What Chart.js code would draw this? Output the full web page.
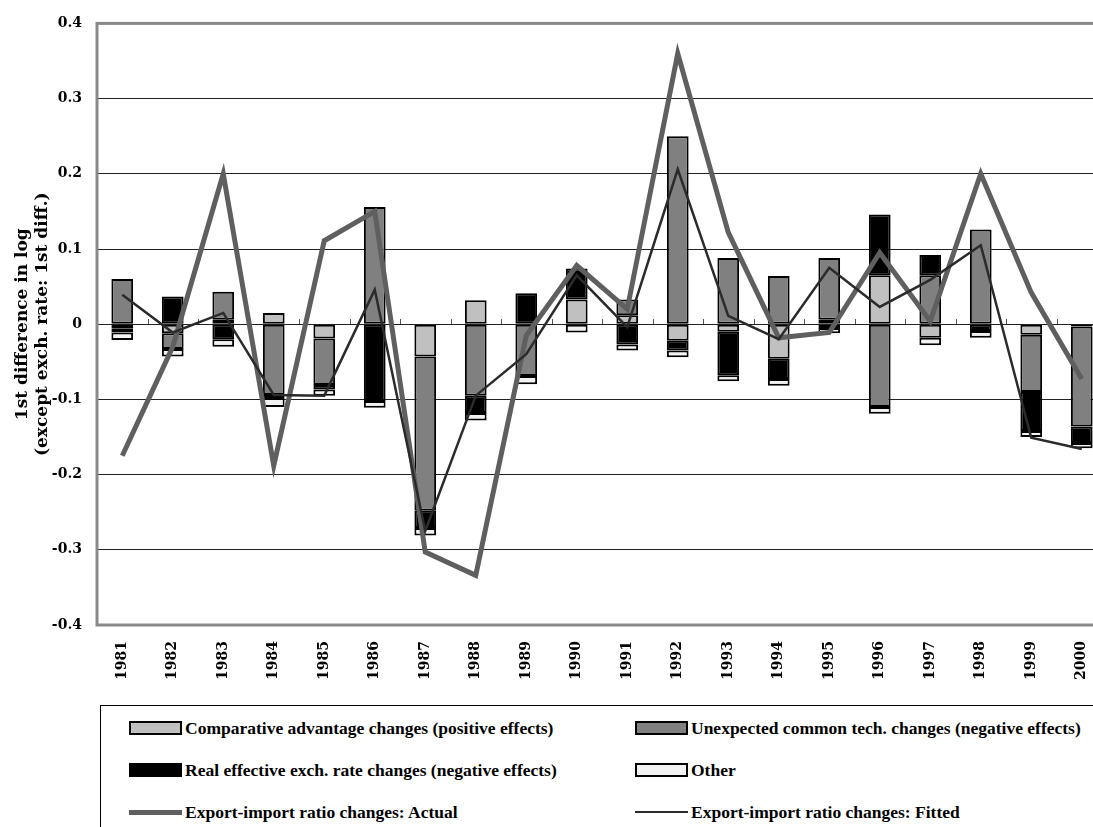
<!DOCTYPE html>
<html>
<head>
<meta charset="utf-8">
<script src="https://cdn.jsdelivr.net/npm/chart.js@4.4.1/dist/chart.umd.min.js"></script>
<style>
    body { margin: 0; background: #fff; overflow: hidden; width: 1093px; height: 827px; position: relative; }
    #wrap { position: absolute; left: 0; top: 0; }
    #legend {
        position: absolute; left: 100px; top: 705px; width: 1000px; height: 122px;
        border-top: 1px solid #000; border-left: 1px solid #000;
        display: grid; grid-template-columns: 506px 1fr; grid-auto-rows: 42px;
        padding-left: 28px; padding-top: 1px; box-sizing: border-box;
        font-family: "Liberation Serif", serif; font-weight: bold; font-size: 17.5px; color: #000;
    }
    .item { display: flex; align-items: center; white-space: nowrap; }
    .sw { width: 53px; margin-right: 3px; box-sizing: border-box; }
</style>
</head>
<body>
<div id="wrap"><canvas id="myChart" width="1112" height="700"></canvas></div>
<div id="legend"></div>
<script>
// categories
var years = ["1981", "1982", "1983", "1984", "1985", "1986", "1987", "1988", "1989", "1990",
             "1991", "1992", "1993", "1994", "1995", "1996", "1997", "1998", "1999", "2000"];

// stacked components
var comparativeAdv = [-0.006, -0.012, 0.006, 0.015, -0.019, 0, -0.043, 0.032, 0, 0.033,
                      0.012, -0.022, -0.010, -0.046, 0.006, 0.065, -0.018, 0, -0.014, -0.003];
var unexpectedTech = [0.060, -0.021, 0.037, -0.094, -0.062, 0.156, -0.205, -0.095, -0.069, 0,
                      0.021, 0.250, 0.088, 0.064, 0.082, -0.110, 0.065, 0.126, -0.076, -0.133];
var realExchRate = [-0.005, 0.037, -0.020, -0.004, -0.006, -0.102, -0.023, -0.023, 0.041, 0.041,
                    -0.027, -0.013, -0.058, -0.027, -0.005, 0.081, 0.027, -0.009, -0.052, -0.022];
var otherEffects = [-0.010, -0.010, -0.010, -0.012, -0.008, -0.009, -0.010, -0.010, -0.011, -0.011,
                    -0.008, -0.009, -0.008, -0.009, -0.007, -0.009, -0.010, -0.009, -0.008, -0.007];

// export-import ratio changes
var actualRatio = [-0.175, -0.030, 0.200, -0.188, 0.111, 0.150, -0.303, -0.334, -0.015, 0.078,
                   0.020, 0.360, 0.122, -0.018, -0.011, 0.095, 0.004, 0.200, 0.042, -0.073];
var fittedRatio = [0.039, -0.011, 0.015, -0.094, -0.095, 0.046, -0.275, -0.095, -0.040, 0.065,
                   -0.004, 0.206, 0.011, -0.020, 0.075, 0.023, 0.059, 0.105, -0.151, -0.166];

var serif = "'DejaVu Serif', serif";

function barSet(label, data, color) {
    return {
        type: "bar", label: label, data: data,
        backgroundColor: color, borderColor: "#000", borderWidth: 2,
        borderSkipped: false, order: 2,
        barPercentage: 0.43, categoryPercentage: 1
    };
}

// gray frame round the plot + small category ticks on the zero line
var framePlugin = {
    id: "frame",
    beforeDatasetsDraw: function (chart) {
        var a = chart.chartArea, c = chart.ctx, xs = chart.scales.x, ys = chart.scales.y;
        var y0 = Math.round(ys.getPixelForValue(0));
        c.save();
        c.strokeStyle = "#555";
        c.lineWidth = 1;
        for (var i = 0; i < years.length - 1; i++) {
            var xb = Math.round((xs.getPixelForValue(i) + xs.getPixelForValue(i + 1)) / 2) + 0.5;
            c.beginPath();
            c.moveTo(xb, y0 - 5);
            c.lineTo(xb, y0);
            c.stroke();
        }
        c.strokeStyle = "#8a8a8a";
        c.lineWidth = 3;
        c.strokeRect(a.left, a.top, a.right - a.left, a.bottom - a.top);
        c.restore();
    }
};

const ctx = document.getElementById("myChart");

var chartOptions = {
    responsive: false,
    animation: false,
    layout: { padding: { top: 22, right: 5, left: 0, bottom: 0 } },
    plugins: {
        legend: { display: false },
        tooltip: { enabled: false }
    },
    scales: {
        x: {
            stacked: true,
            grid: { display: false },
            border: { display: false },
            ticks: {
                autoSkip: false, minRotation: 90, maxRotation: 90, padding: 8,
                color: "#000", font: { family: serif, size: 14, weight: "bold" }
            },
            afterFit: function (s) { s.height = 75; }
        },
        y: {
            stacked: true,
            min: -0.4, max: 0.4,
            grid: { color: "#222", lineWidth: 1, drawTicks: false },
            border: { display: false },
            ticks: {
                stepSize: 0.1, padding: 15, color: "#000",
                font: { family: serif, size: 14, weight: "bold" },
                callback: function (v) { return Math.abs(v) < 1e-9 ? "0" : v.toFixed(1); }
            },
            title: {
                display: true,
                text: ["1st difference in log", "(except exch. rate: 1st diff.)"],
                color: "#000", padding: { top: 13, bottom: 0 },
                font: { family: serif, size: 17, weight: "bold", lineHeight: 1.15 }
            },
            afterFit: function (s) { s.width = 97; }
        }
    }
};

var chart = new Chart(ctx, {
    data: {
        labels: years,
        datasets: [
            barSet("Comparative advantage changes (positive effects)", comparativeAdv, "#c0c0c0"),
            barSet("Unexpected common tech. changes (negative effects)", unexpectedTech, "#808080"),
            barSet("Real effective exch. rate changes (negative effects)", realExchRate, "#000000"),
            barSet("Other", otherEffects, "#f2f2f2"),
            {
                type: "line", label: "Export-import ratio changes: Actual", data: actualRatio,
                borderColor: "#5f5f5f", borderWidth: 5, pointRadius: 0, tension: 0,
                borderJoinStyle: "miter", stack: "actual", order: 1, fill: false
            },
            {
                type: "line", label: "Export-import ratio changes: Fitted", data: fittedRatio,
                borderColor: "#2b2b2b", borderWidth: 2.5, pointRadius: 0, tension: 0,
                borderJoinStyle: "miter", stack: "fitted", order: 0, fill: false
            }
        ]
    },
    options: chartOptions,
    plugins: [framePlugin]
});

// legend in two columns, built from the datasets
var legendBox = document.getElementById("legend");
chart.data.datasets.forEach(function (ds) {
    var item = document.createElement("div");
    item.className = "item";
    var sw = document.createElement("span");
    sw.className = "sw";
    if (ds.type === "bar") {
        sw.style.height = "14px";
        sw.style.border = "2px solid #000";
        sw.style.background = ds.backgroundColor;
    } else {
        sw.style.height = ds.borderWidth + "px";
        sw.style.background = ds.borderColor;
    }
    item.appendChild(sw);
    item.appendChild(document.createTextNode(ds.label));
    legendBox.appendChild(item);
});
</script>
</body>
</html>
